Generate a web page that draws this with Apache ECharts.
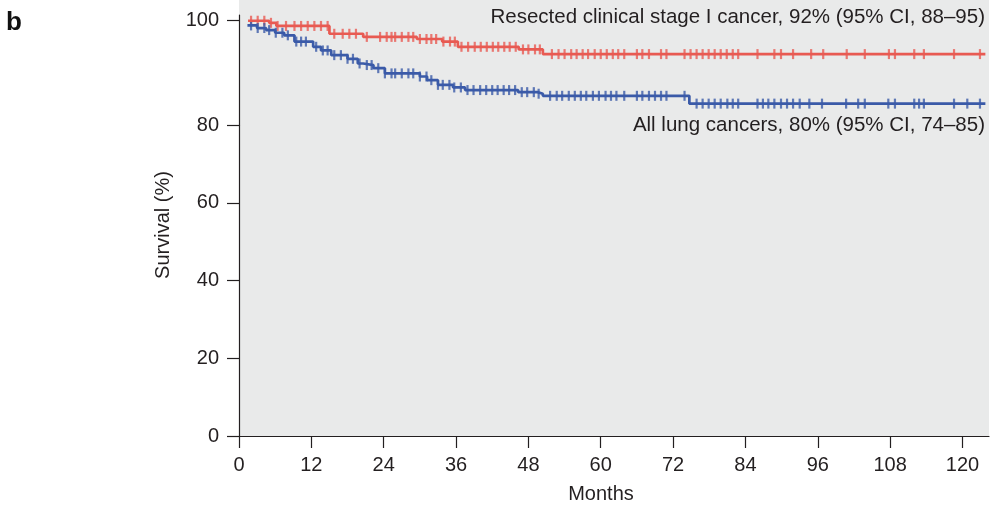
<!DOCTYPE html>
<html>
<head>
<meta charset="utf-8">
<script src="https://cdn.jsdelivr.net/npm/echarts@6/dist/echarts.min.js"></script>
<style>
  html, body { margin: 0; padding: 0; background: #fff; }
  #chart { width: 991px; height: 506px; }
</style>
</head>
<body>
<div id="chart"></div>
<script>
// Kaplan-Meier steps (month, survival %)
const redTimes = [1.5, 5, 6.2, 15, 20.6, 29.5, 33.7, 36.3, 46.4, 50.4, 123.8];
const redValues = [100, 99.6, 99.0, 97.5, 96.9, 96.5, 96.0, 95.0, 94.5, 93.6, 93.6];
const blueTimes = [1.4, 3, 4.5, 6, 7.5, 9.2, 12.3, 13.6, 15.3, 18, 19.7, 20.6, 22.3, 24.2, 30, 31.2, 33, 35.5, 37.5, 46.3, 49.5, 50.4, 74.7, 123.8];
const blueValues = [99.1, 98.6, 98.2, 97.7, 97.2, 96.0, 95.0, 94.3, 93.4, 92.7, 91.8, 91.5, 90.9, 89.9, 89.3, 88.6, 87.7, 87.2, 86.7, 86.3, 86.0, 85.6, 84.1, 84.1];

// censored observations (months)
const redCensor = [2.0, 3.1, 4.2, 5.3, 6.4, 7.8, 9.2, 10.3, 11.4, 12.5, 13.6, 14.7, 15.8, 17.2, 18.3, 19.4,
  21.2, 23.4, 24.5, 25.3, 25.9, 27.0, 28.1, 28.9, 30.0, 31.1, 31.9, 32.7, 33.9, 35.0, 35.8, 36.9, 38.0, 39.1,
  40.1, 41.1, 42.1, 43.0, 44.0, 44.9, 45.9, 47.1, 48.0, 49.1, 49.9, 51.9, 53.0, 54.0, 55.1, 56.0, 57.0, 57.9,
  59.0, 60.0, 61.0, 62.0, 62.9, 63.9, 66.0, 66.9, 68.0, 70.0, 70.9, 73.9, 74.9, 75.9, 76.9, 77.9, 78.9, 79.9,
  80.9, 81.9, 82.8, 86.0, 88.8, 89.9, 91.9, 94.9, 96.9, 100.8, 103.8, 107.8, 108.8, 112.0, 113.6, 118.6, 122.9];
const blueCensor = [2.0, 3.1, 4.2, 5.0, 6.1, 7.2, 8.1, 9.5, 10.3, 11.1, 12.8, 13.9, 14.7, 15.8, 16.9, 18.0, 18.9,
  20.0, 21.2, 22.0, 23.1, 24.2, 25.3, 25.9, 27.0, 28.1, 28.9, 30.0, 31.1, 31.9, 33.0, 33.8, 34.9, 35.7, 36.8,
  37.9, 38.9, 40.0, 41.0, 42.0, 42.9, 43.9, 44.8, 45.8, 46.9, 47.8, 48.9, 49.7, 51.6, 52.7, 53.6, 54.7, 55.7,
  56.7, 57.6, 58.7, 59.7, 60.8, 61.7, 62.6, 63.9, 66.0, 66.9, 68.0, 69.0, 70.0, 70.9, 73.9, 75.9, 76.9, 77.9,
  78.9, 79.9, 81.0, 81.9, 82.8, 86.0, 86.9, 87.8, 88.8, 89.9, 90.9, 91.9, 93.0, 94.6, 96.7, 100.7, 102.7, 103.8,
  107.7, 108.8, 112.0, 112.8, 113.6, 118.6, 120.8, 122.9];

const xTicks = [0, 12, 24, 36, 48, 60, 72, 84, 96, 108, 120];
const yTicksLow = [0, 20, 40, 60, 80];
const yTicksHigh = [100];

const redLabel = "Resected clinical stage I cancer, 92% (95% CI, 88\u201395)";
const blueLabel = "All lung cancers, 80% (95% CI, 74\u201385)";

const RED = "#e85a52";
const BLUE = "#3a5aa8";
const INK = "#231f20";
const FONT = "'Liberation Sans', Arial, sans-serif";

const pairs = (ts, vs) => ts.map((t, i) => [t, vs[i]]);
// value of the step curve at month t
const survAt = (ts, vs, t) => {
  let v = vs[0];
  for (let i = 0; i < ts.length; i++) {
    if (ts[i] <= t) v = vs[i];
  }
  return v;
};
const censorPts = (cs, ts, vs) => cs.map((t) => [t, survAt(ts, vs, t)]);

const chart = echarts.init(document.getElementById("chart"));

const axisLine = { show: true, onZero: false, lineStyle: { color: INK, width: 1.2 } };
const tickStyle = { show: true, inside: false, length: 12, lineStyle: { color: INK, width: 1.2 } };
const labelStyle = { color: INK, fontSize: 20, fontFamily: FONT };

chart.setOption({
  animation: false,
  grid: [
    { left: 239, right: 2, top: 15, height: 110, show: true, backgroundColor: "#e9eaea", borderWidth: 0 },
    { left: 239, right: 2, top: 125, bottom: 70, show: true, backgroundColor: "#e9eaea", borderWidth: 0 },
  ],
  xAxis: [
    { type: "value", gridIndex: 0, min: 0, max: 124.4, show: false },
    {
      type: "value",
      gridIndex: 1,
      min: 0,
      max: 124.4,
      axisLine: axisLine,
      axisTick: Object.assign({ customValues: xTicks }, tickStyle),
      axisLabel: Object.assign({ customValues: xTicks, margin: 19 }, labelStyle),
      splitLine: { show: false },
    },
  ],
  yAxis: [
    {
      type: "value",
      gridIndex: 0,
      min: 80,
      max: 101.1,
      axisLine: axisLine,
      axisTick: Object.assign({ customValues: yTicksHigh }, tickStyle),
      axisLabel: Object.assign({ customValues: yTicksHigh, margin: 20 }, labelStyle),
      splitLine: { show: false },
    },
    {
      type: "value",
      gridIndex: 1,
      min: 0,
      max: 80,
      axisLine: axisLine,
      axisTick: Object.assign({ customValues: yTicksLow }, tickStyle),
      axisLabel: Object.assign({ customValues: yTicksLow, margin: 20 }, labelStyle),
      splitLine: { show: false },
    },
  ],
  graphic: [
    {
      type: "rect",
      z: -1,
      shape: { x: 239, y: 0, width: 750, height: 15 },
      style: { fill: "#e9eaea" },
    },
    {
      type: "text",
      left: 6,
      top: 10,
      style: { text: "b", font: "bold 26px " + FONT, fill: "#111" },
    },
    {
      type: "text",
      x: 163,
      y: 225,
      rotation: Math.PI / 2,
      style: { text: "Survival (%)", font: "20px " + FONT, fill: INK, align: "center", verticalAlign: "middle" },
    },
    {
      type: "text",
      x: 601,
      y: 494,
      style: { text: "Months", font: "20px " + FONT, fill: INK, align: "center", verticalAlign: "middle" },
    },
    {
      type: "text",
      x: 985,
      y: 17,
      z: 10,
      style: { text: redLabel, font: "20.5px " + FONT, fill: INK, align: "right", verticalAlign: "middle" },
    },
    {
      type: "text",
      x: 985,
      y: 125,
      z: 10,
      style: { text: blueLabel, font: "20.5px " + FONT, fill: INK, align: "right", verticalAlign: "middle" },
    },
  ],
  series: [
    {
      name: "Resected clinical stage I",
      type: "line",
      xAxisIndex: 0,
      yAxisIndex: 0,
      step: "end",
      showSymbol: false,
      data: pairs(redTimes, redValues),
      lineStyle: { color: RED, width: 2.7 },
    },
    {
      name: "All lung cancers",
      type: "line",
      xAxisIndex: 0,
      yAxisIndex: 0,
      step: "end",
      showSymbol: false,
      data: pairs(blueTimes, blueValues),
      lineStyle: { color: BLUE, width: 2.7 },
    },
    {
      type: "scatter",
      xAxisIndex: 0,
      yAxisIndex: 0,
      symbol: "rect",
      symbolSize: [2.2, 10],
      itemStyle: { color: RED },
      data: censorPts(redCensor, redTimes, redValues),
    },
    {
      type: "scatter",
      xAxisIndex: 0,
      yAxisIndex: 0,
      symbol: "rect",
      symbolSize: [2.2, 10],
      itemStyle: { color: BLUE },
      data: censorPts(blueCensor, blueTimes, blueValues),
    },
  ],
});
</script>
</body>
</html>
